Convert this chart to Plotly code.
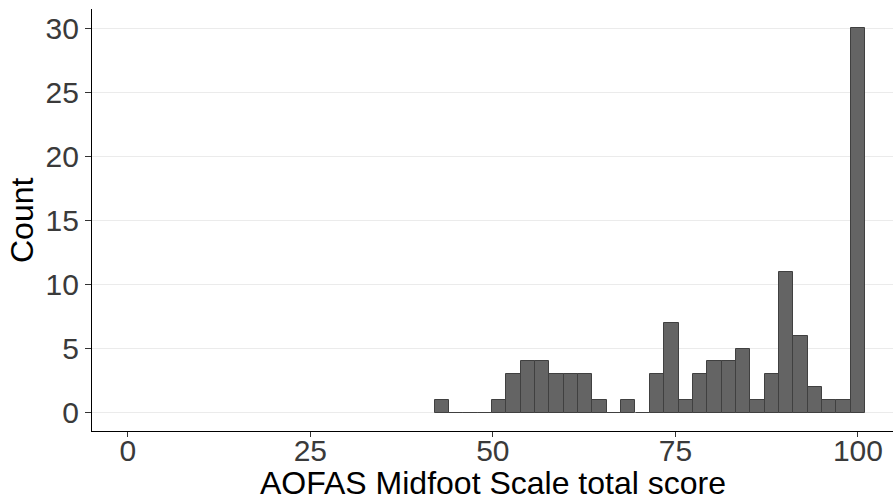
import plotly.graph_objects as go

# Histogram bins (centers) and counts
bin_centers = [43.0, 44.97, 46.93, 48.9, 50.86, 52.83, 54.79, 56.76, 58.72, 60.69,
               62.66, 64.62, 66.59, 68.55, 70.52, 72.48, 74.45, 76.41, 78.38, 80.34,
               82.31, 84.28, 86.24, 88.21, 90.17, 92.14, 94.1, 96.07, 98.03, 100.0]
counts = [1, 0, 0, 0, 1, 3, 4, 4, 3, 3,
          3, 1, 0, 1, 0, 3, 7, 1, 3, 4,
          4, 5, 1, 3, 11, 6, 2, 1, 1, 30]
bin_width = 1.9655

x_ticks = [0, 25, 50, 75, 100]
y_ticks = [0, 5, 10, 15, 20, 25, 30]
x_title = "AOFAS Midfoot Scale total score"
y_title = "Count"

fig = go.Figure()
fig.add_trace(go.Bar(
    x=bin_centers, y=counts, width=[bin_width] * len(bin_centers),
    marker=dict(color="#646464", line=dict(color="#404040", width=1)),
    showlegend=False,
))

font_family = "Liberation Sans, Arial, sans-serif"
W, H = 893, 501
L, R, T, B = 92, 0, 9, 70
plot_h = H - T - B
plot_w = W - L - R

fig.update_layout(
    width=W, height=H,
    margin=dict(l=L, r=R, t=T, b=B, autoexpand=False),
    plot_bgcolor="white", paper_bgcolor="white",
    bargap=0,
    font=dict(family=font_family, color="#000000"),
    xaxis=dict(
        range=[-4.9, 104.8], automargin=False,
        tickvals=x_ticks, ticktext=[str(v) for v in x_ticks],
        showgrid=False, zeroline=False,
        showline=True, linecolor="black", linewidth=1.3,
        ticks="outside", ticklen=5, tickwidth=1.2, tickcolor="#333333",
        tickfont=dict(size=30, color="#3a3a3a"),
        ticklabelstandoff=-12,
    ),
    yaxis=dict(
        range=[-1.43, 31.5], automargin=False,
        tickvals=y_ticks, ticktext=[str(v) for v in y_ticks],
        showgrid=True, gridcolor="#EBEBEB", gridwidth=1.2,
        zeroline=False,
        showline=True, linecolor="black", linewidth=1.3,
        ticks="outside", ticklen=6, tickwidth=1.2, tickcolor="#333333",
        tickfont=dict(size=30, color="#3a3a3a"),
    ),
    annotations=[
        dict(text=x_title, xref="paper", yref="paper",
             x=0.5, y=-(483 - (T + plot_h)) / plot_h,
             xanchor="center", yanchor="middle", showarrow=False,
             font=dict(size=32, color="black", family=font_family)),
        dict(text=y_title, xref="paper", yref="paper",
             x=-(L - 22) / plot_w, y=0.5, textangle=-90,
             xanchor="center", yanchor="middle", showarrow=False,
             font=dict(size=32, color="black", family=font_family)),
    ],
)

fig.write_html("out.html",
               config={"displayModeBar": False},
               post_script="document.body.style.margin='0';document.body.style.overflow='hidden';")
